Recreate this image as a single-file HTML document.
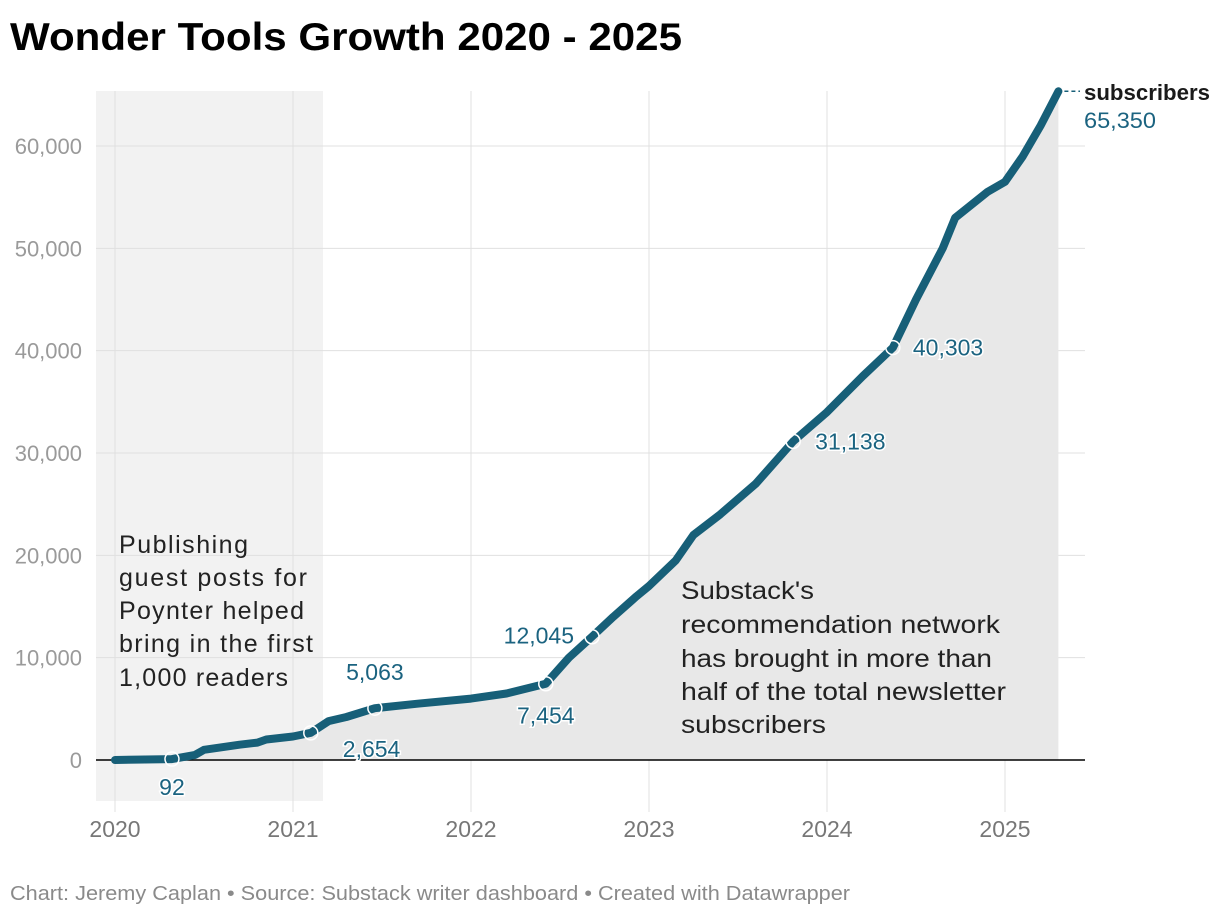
<!DOCTYPE html>
<html><head><meta charset="utf-8">
<style>
body{margin:0;background:#fff;font-family:"Liberation Sans",sans-serif;}
svg text{font-family:"Liberation Sans",sans-serif;}
</style></head>
<body>
<svg id="c" width="1220" height="918">
<text x="10" y="50" font-size="39" font-weight="bold" fill="#000" textLength="672" lengthAdjust="spacingAndGlyphs">Wonder Tools Growth 2020 - 2025</text>
<rect x="96" y="91" width="227" height="710" fill="#f2f2f2"/>
<g id="grid"></g>
<path id="area" fill="#e8e8e8"/>
<line x1="96" x2="1085" y1="760" y2="760" stroke="#000" stroke-width="1.5"/>
<path id="line" fill="none" stroke="#175f78" stroke-width="8" stroke-linejoin="round" stroke-linecap="round"/>
<g id="marks"></g>
<text x="1084" y="100" font-size="22" font-weight="bold" fill="#1a1a1a" textLength="126" lengthAdjust="spacingAndGlyphs">subscribers</text>
<text x="1084" y="128" font-size="22" fill="#1b6380" textLength="72" lengthAdjust="spacingAndGlyphs">65,350</text>
<g font-size="25" fill="#222" lengthAdjust="spacingAndGlyphs">
<text x="119" y="553" textLength="129">Publishing</text><text x="119" y="586" textLength="188">guest posts for</text><text x="119" y="619" textLength="185">Poynter helped</text><text x="119" y="652" textLength="194">bring in the first</text><text x="119" y="686" textLength="169">1,000 readers</text></g>
<g font-size="25" fill="#222">
<text x="681" y="599" textLength="133" lengthAdjust="spacingAndGlyphs">Substack's</text><text x="681" y="633" textLength="319" lengthAdjust="spacingAndGlyphs">recommendation network</text><text x="681" y="667" textLength="311" lengthAdjust="spacingAndGlyphs">has brought in more than</text><text x="681" y="700" textLength="325" lengthAdjust="spacingAndGlyphs">half of the total newsletter</text><text x="681" y="733" textLength="145" lengthAdjust="spacingAndGlyphs">subscribers</text></g>
<text x="10" y="900" font-size="20" fill="#8a8a8a" textLength="840" lengthAdjust="spacingAndGlyphs">Chart: Jeremy Caplan • Source: Substack writer dashboard • Created with Datawrapper</text>
</svg>
<script>
const years=[2020.0,2020.32,2020.45,2020.5,2020.7,2020.8,2020.85,2021.0,2021.1,2021.2,2021.3,2021.46,2021.7,2022.0,2022.2,2022.42,2022.55,2022.68,2022.8,2022.93,2023.0,2023.15,2023.25,2023.4,2023.6,2023.81,2024.0,2024.2,2024.37,2024.5,2024.65,2024.72,2024.9,2025.0,2025.1,2025.2,2025.3];
const values=[0,92,500,1000,1500,1700,2000,2300,2654,3800,4200,5063,5500,6000,6500,7454,10000,12045,14000,16000,17000,19500,22000,24000,27000,31138,34000,37500,40303,45000,50000,53000,55500,56500,59000,62000,65350];
const yTicks=[0,10000,20000,30000,40000,50000,60000];
const xTicks=[2020,2021,2022,2023,2024,2025];
const labelled=[{y:2020.32,v:92,t:"92"},{y:2021.1,v:2654,t:"2,654"},{y:2021.46,v:5063,t:"5,063"},{y:2022.42,v:7454,t:"7,454"},{y:2022.68,v:12045,t:"12,045"},{y:2023.81,v:31138,t:"31,138"},{y:2024.37,v:40303,t:"40,303"}];
const labelOff=[[0,36,"middle"],[32,24,"start"],[0,-28,"middle"],[0,40,"middle"],[-18,7,"end"],[22,8,"start"],[20,8,"start"]];
const X=y=>115+(y-2020)*178, Y=v=>760-v*0.010233;
const NS="http://www.w3.org/2000/svg";
const g=document.getElementById('grid');
yTicks.forEach(v=>{
 const l=document.createElementNS(NS,'line');
 
 
 l.setAttribute('x1',96);l.setAttribute('x2',1085);l.setAttribute('y1',Y(v));l.setAttribute('y2',Y(v));l.setAttribute('stroke','#e0e0e0');g.appendChild(l);
 const t=document.createElementNS(NS,'text');
 
 
 t.setAttribute('x',82);t.setAttribute('y',Y(v)+8);t.setAttribute('text-anchor','end');t.setAttribute('font-size','22');t.setAttribute('fill','#9a9a9a');t.textContent=v.toLocaleString('en-US');g.appendChild(t);
});
xTicks.forEach(y=>{
 const l=document.createElementNS(NS,'line');
 
 
 l.setAttribute('x1',X(y));l.setAttribute('x2',X(y));l.setAttribute('y1',91);l.setAttribute('y2',812);l.setAttribute('stroke','#e0e0e0');g.appendChild(l);
 const t=document.createElementNS(NS,'text');
 
 
 t.setAttribute('x',X(y));t.setAttribute('y',837);t.setAttribute('text-anchor','middle');t.setAttribute('font-size','23');t.setAttribute('fill','#777');t.textContent=y;g.appendChild(t);
});
const pts=years.map((y,i)=>[X(y),Y(values[i])]);
const d='M'+pts.map(p=>p[0].toFixed(1)+','+p[1].toFixed(1)).join('L');
document.getElementById('line').setAttribute('d',d);
const last=pts[pts.length-1];
document.getElementById('area').setAttribute('d',d+'L'+last[0]+',760L'+pts[0][0]+',760Z');
const m=document.getElementById('marks');
const dl=document.createElementNS(NS,'line');


dl.setAttribute('x1',last[0]+6);dl.setAttribute('x2',1080);dl.setAttribute('y1',last[1]);dl.setAttribute('y2',last[1]);dl.setAttribute('stroke','#175f78');dl.setAttribute('stroke-width','1.5');dl.setAttribute('stroke-dasharray','4 3');m.appendChild(dl);
labelled.forEach((p,i)=>{
 const c=document.createElementNS(NS,'circle');
 
 
 c.setAttribute('cx',X(p.y));c.setAttribute('cy',Y(p.v));c.setAttribute('r',7);c.setAttribute('fill','none');c.setAttribute('stroke','#fff');c.setAttribute('stroke-width','1.5');m.appendChild(c);
 const t=document.createElementNS(NS,'text');
 
 
 t.setAttribute('x',X(p.y)+labelOff[i][0]);t.setAttribute('y',Y(p.v)+labelOff[i][1]);t.setAttribute('text-anchor',labelOff[i][2]);t.setAttribute('font-size','23');t.setAttribute('fill','#1b6380');t.setAttribute('stroke','#fff');t.setAttribute('stroke-width','3');t.setAttribute('paint-order','stroke');t.textContent=p.t;m.appendChild(t);
});
</script>
</body></html>
